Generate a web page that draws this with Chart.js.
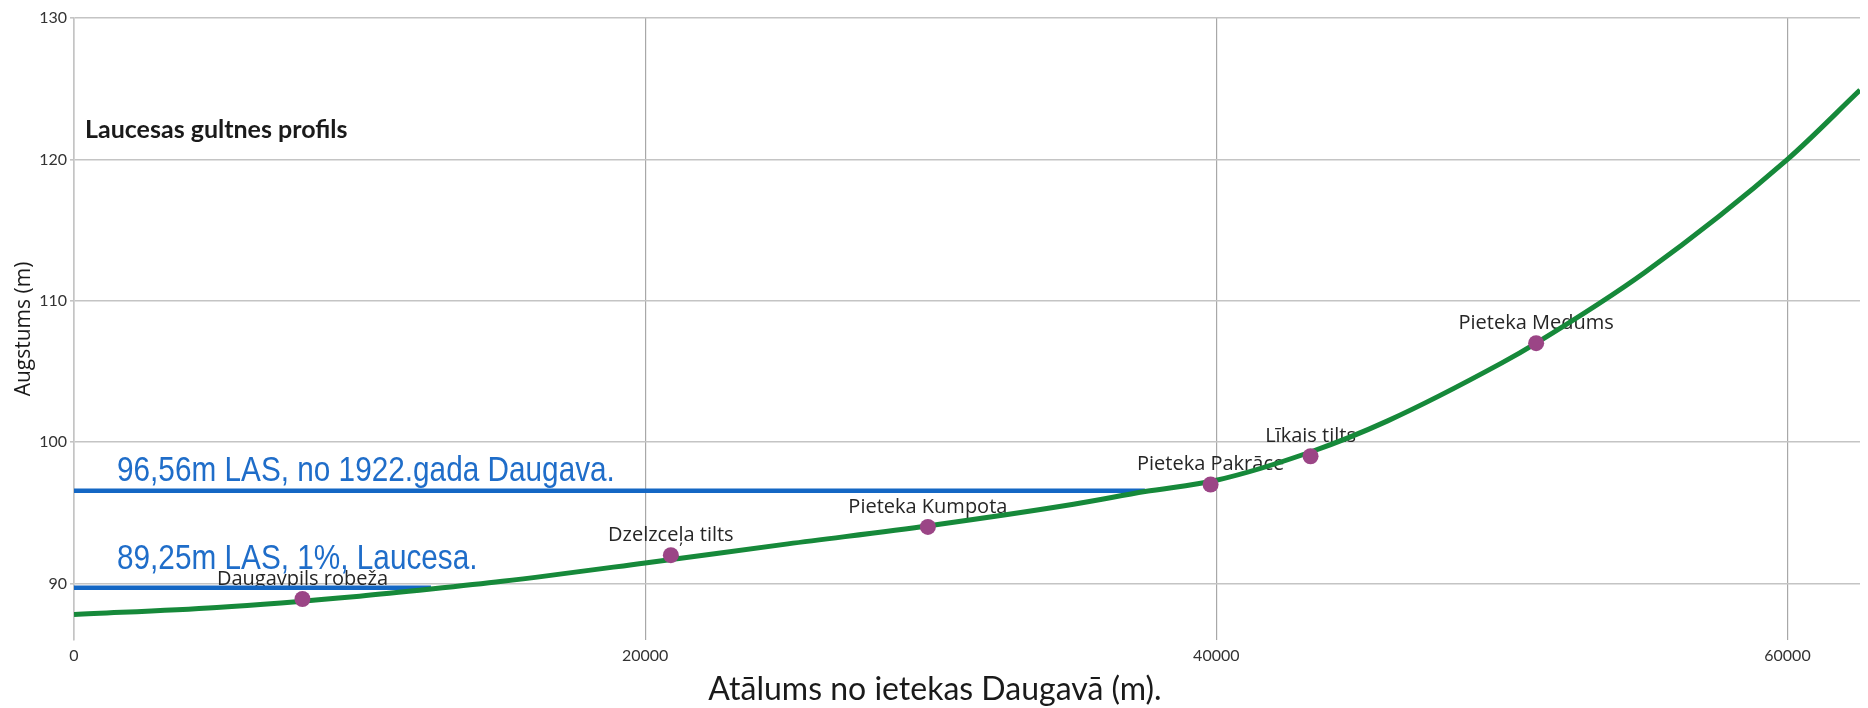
<!DOCTYPE html>
<html>
<head>
<meta charset="utf-8">
<script src="https://cdn.jsdelivr.net/npm/chart.js@4"></script>
<style>
  body { margin: 0; background: #fff; }
  #wrap { width: 1868px; height: 708px; }
</style>
</head>
<body>
<div id="wrap"><canvas id="graficoProfils"></canvas></div>
<script>
// upes gultnes profils (attālums m, augstums m)
const profilaAttalums = [0, 5000, 10000, 12500, 15000, 20000, 25000, 30000, 35000, 37500, 40000, 43300, 46000, 50000, 51200, 55000, 60000, 62540];
const profilaAugstums = [87.8, 88.3, 89.1, 89.6, 90.15, 91.45, 92.8, 94.1, 95.6, 96.5, 97.3, 99.3, 101.5, 105.6, 107.0, 112.0, 120.0, 124.9];

// vietas
const vietuNosaukumi = ["Daugavpils robeža", "Dzelzceļa tilts", "Pieteka Kumpota", "Pieteka Pakrāce", "Līkais tilts", "Pieteka Medums"];
const vietuAttalums = [8000, 20900, 29900, 39800, 43300, 51200];
const vietuAugstums = [88.9, 92.0, 94.0, 97.0, 99.0, 107.0];

// ūdens līmeņi
const limenuTeksti = ["96,56m LAS, no 1922.gada Daugava.", "89,25m LAS, 1%, Laucesa."];
const limenuAugstums = [96.56, 89.7];
const limenuBeigas = [37500, 12500];

const xTicks = [0, 20000, 40000, 60000];
const yTicks = [90, 100, 110, 120, 130];

const nosaukumuPlugin = {
    id: "nosaukumi",
    beforeDatasetsDraw(chart) {
        const ctx = chart.ctx;
        const x = chart.scales.x;
        const y = chart.scales.y;
        ctx.save();
        ctx.font = "20px 'Open Sans'";
        ctx.fillStyle = "#262626";
        ctx.textAlign = "center";
        ctx.textBaseline = "middle";
        vietuNosaukumi.forEach((n, i) => {
            ctx.fillText(n, x.getPixelForValue(vietuAttalums[i]), y.getPixelForValue(vietuAugstums[i]) - 20);
        });
        ctx.restore();
    },
    afterDatasetsDraw(chart) {
        const ctx = chart.ctx;
        const y = chart.scales.y;
        const nobides = [19, 28];
        const left = chart.chartArea.left + 43;
        ctx.save();
        ctx.font = "35px 'Liberation Sans'";
        ctx.fillStyle = "#1f6dc9";
        ctx.textAlign = "left";
        ctx.textBaseline = "middle";
        limenuTeksti.forEach((t, i) => {
            ctx.save();
            ctx.translate(left, y.getPixelForValue(limenuAugstums[i]) - nobides[i]);
            ctx.scale(0.85, 1);
            ctx.fillText(t, 0, 0);
            ctx.restore();
        });
        ctx.font = "bold 25px Lato";
        ctx.fillStyle = "#1a1a1a";
        ctx.fillText("Laucesas gultnes profils", chart.chartArea.left + 11, 130);

        // x ass nosaukums
        ctx.font = "32px Lato";
        ctx.textAlign = "center";
        ctx.fillText("Atālums no ietekas Daugavā (m).", 935, 690);
        ctx.restore();
    },
};

const datiProfils = {
    datasets: [
        {
            label: "Vietas",
            data: vietuAttalums.map((v, i) => ({ x: v, y: vietuAugstums[i] })),
            showLine: false,
            pointRadius: 8,
            pointBackgroundColor: "#9b4586",
            pointBorderWidth: 0,
        },
        {
            label: "Gultne",
            data: profilaAttalums.map((v, i) => ({ x: v, y: profilaAugstums[i] })),
            borderColor: "#16893a",
            borderWidth: 5,
            pointRadius: 0,
            cubicInterpolationMode: "monotone",
        },
        ...limenuAugstums.map((l, i) => ({
            label: limenuTeksti[i],
            data: [{ x: 0, y: l }, { x: limenuBeigas[i], y: l }],
            borderColor: "#1467c4",
            borderWidth: 4.5,
            pointRadius: 0,
        })),
    ],
};

const configProfils = {
    type: "line",
    data: datiProfils,
    plugins: [nosaukumuPlugin],
    options: {
        responsive: true,
        maintainAspectRatio: false,
        animation: false,
        layout: { padding: { top: 18, right: 0, left: 0, bottom: 0 } },
        plugins: {
            legend: { display: false },
            tooltip: { enabled: false },
        },
        scales: {
            x: {
                type: "linear",
                min: 0,
                max: 62540,
                afterFit: (s) => { s.height = 68; },
                afterBuildTicks: (s) => { s.ticks = xTicks.map((v) => ({ value: v })); },
                ticks: {
                    padding: 6,
                    color: "#333",
                    font: { family: "Lato", size: 16 },
                    callback: (v) => String(v),
                },
                grid: { color: "#a8a8a8", lineWidth: 1.2, drawTicks: false },
                border: { display: false },
            },
            y: {
                type: "linear",
                min: 86,
                max: 130,
                afterFit: (s) => { s.width = 74; },
                afterBuildTicks: (s) => { s.ticks = yTicks.map((v) => ({ value: v })); },
                ticks: {
                    padding: 3,
                    color: "#333",
                    font: { family: "Lato", size: 16 },
                },
                grid: { color: "#c4c4c4", lineWidth: 1.6, tickLength: 4 },
                border: { display: true, color: "#c4c4c4", width: 1.6 },
                title: {
                    display: true,
                    text: "Augstums (m)",
                    color: "#1a1a1a",
                    padding: 11,
                    font: { family: "Open Sans", size: 21 },
                },
            },
        },
    },
};

const chartProfils = new Chart(document.getElementById("graficoProfils"), configProfils);
</script>
</body>
</html>
